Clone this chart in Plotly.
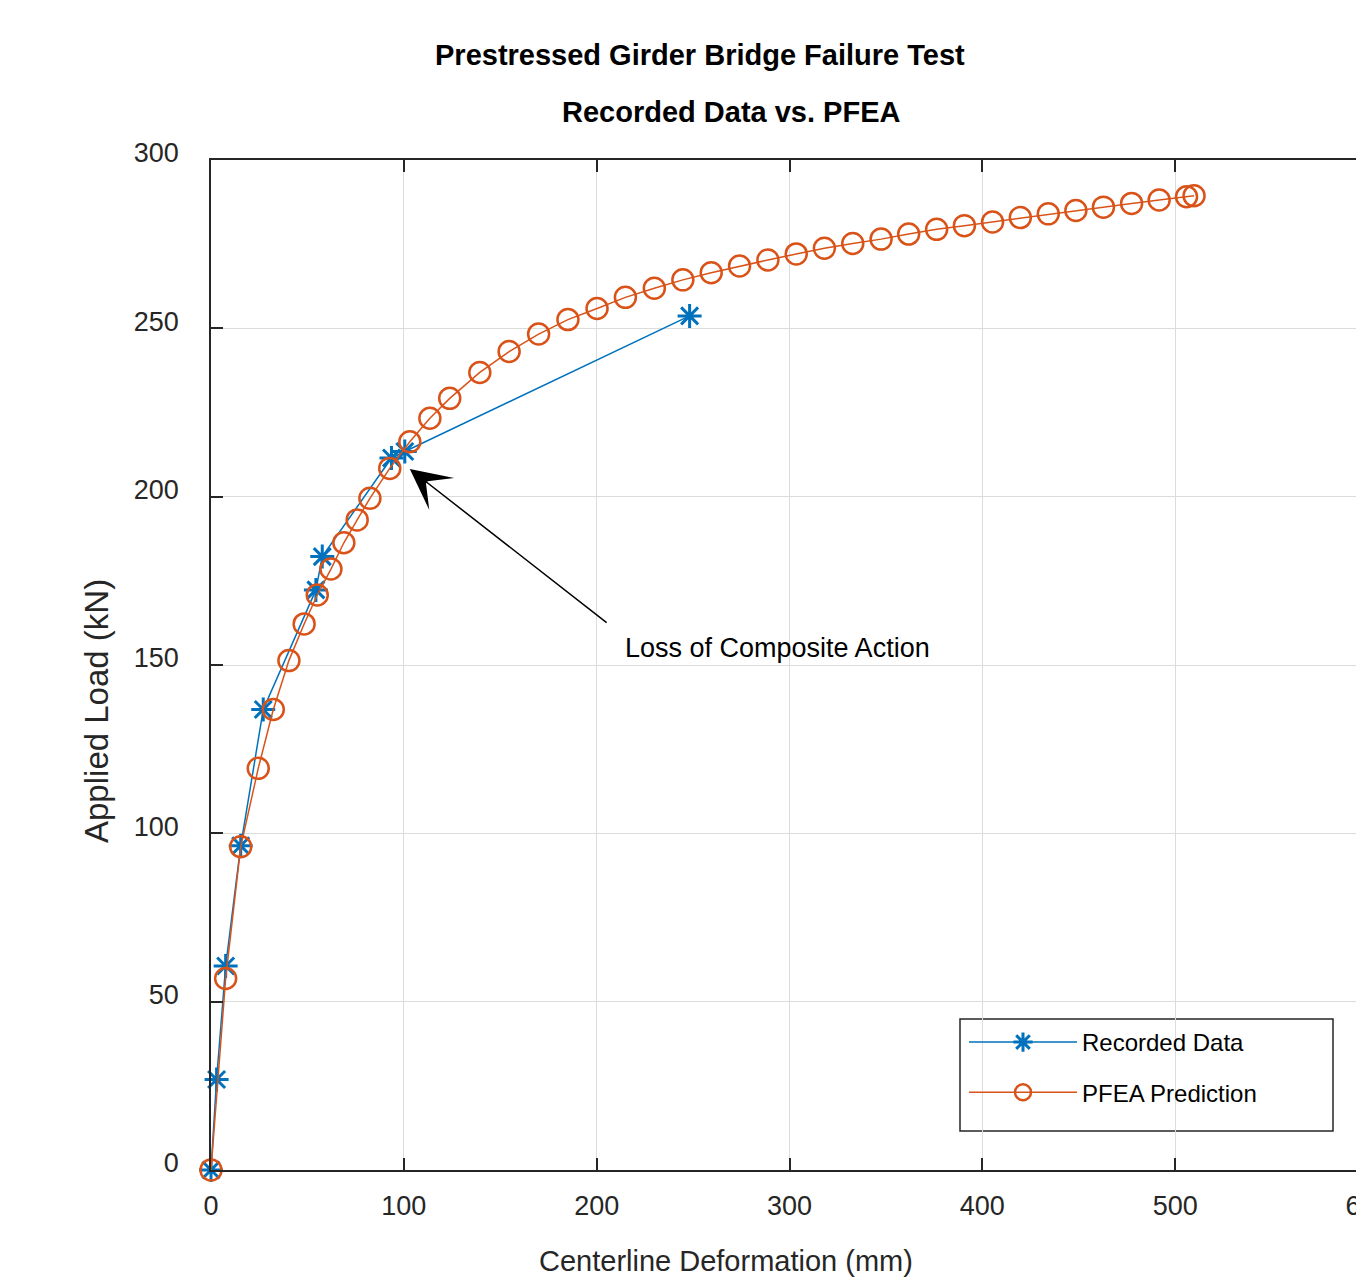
import plotly.graph_objects as go

# ---- data ----
rec_x = [0, 2.9, 7.6, 15.4, 27.1, 54.4, 57.7, 93.6, 100.5, 248.2]
rec_y = [0, 26.9, 60.6, 96.3, 136.8, 172.3, 182.2, 211.5, 213.4, 253.7]

pfea_x = [0, 7.6, 15.4, 24.5, 32.3, 40.4, 48.3, 55.1, 62.2, 68.9, 75.8, 82.4, 92.7,
          103.1, 113.5, 123.8, 139.4, 154.6, 169.9, 185.1, 200.2, 214.9, 229.9, 244.7,
          259.4, 274.1, 288.8, 303.5, 318.1, 332.8, 347.5, 361.8, 376.3, 390.7, 405.3,
          419.7, 434.2, 448.5, 462.8, 477.4, 491.7, 505.9, 509.8]
pfea_y = [0, 56.9, 96.0, 119.3, 136.8, 151.3, 162.2, 170.8, 178.5, 186.3, 193.1, 199.5, 208.4,
          216.3, 223.3, 229.2, 236.9, 243.1, 248.3, 252.6, 255.9, 259.2, 261.9, 264.4,
          266.5, 268.5, 270.3, 272.1, 273.8, 275.2, 276.5, 278.0, 279.4, 280.5, 281.6,
          282.9, 284.0, 285.0, 286.0, 287.1, 288.1, 289.1, 289.4]

x_ticks = [0, 100, 200, 300, 400, 500, 600]
y_ticks = [0, 50, 100, 150, 200, 250, 300]

title_lines = ["Prestressed Girder Bridge Failure Test", "Recorded Data vs. PFEA"]
x_title = "Centerline Deformation (mm)"
y_title = "Applied Load (kN)"
note_text = "Loss of Composite Action"
arrow_head = (103.1, 208.2)
arrow_tail = (206.7, 161.9)
note_pos = (213.5, 155.0)

BLUE = "#0072BD"
ORANGE = "#D95319"
FONT = "Liberation Sans, Arial, Helvetica, sans-serif"
AX = "#262626"

# plot area spans page x 211..1368 (right part cut by the window), y 160..1170
PX0, PW, PY1, PH = 211, 1157, 1170, 1010
FIG_W = 1420


def px(xp):
    return (xp - PX0) / PW


def py(yp):
    return (PY1 - yp) / PH


fig = go.Figure()
fig.add_trace(go.Scatter(
    x=rec_x, y=rec_y, name="Recorded Data", mode="lines+markers", legendgroup="a",
    cliponaxis=False,
    line=dict(color=BLUE, width=1.5),
    marker=dict(symbol="asterisk-open", size=20, line=dict(color=BLUE, width=3), color=BLUE),
))
fig.add_trace(go.Scatter(
    x=pfea_x, y=pfea_y, name="PFEA Prediction", mode="lines+markers", legendgroup="b",
    cliponaxis=False,
    line=dict(color=ORANGE, width=1.5),
    marker=dict(symbol="circle-open", size=21, line=dict(color=ORANGE, width=2.5), color=ORANGE),
))

axis_common = dict(
    showgrid=True, gridcolor="#dcdcdc", gridwidth=1, automargin=False,
    zeroline=False, showline=True, linecolor=AX, linewidth=1.5,
    ticks="inside", ticklen=12, tickwidth=1.5, tickcolor=AX,
    tickfont=dict(family=FONT, size=27, color=AX),
)

fig.update_xaxes(range=[0, 600], tickvals=x_ticks, mirror="ticks",
                 ticklabelstandoff=11, **axis_common)
fig.update_yaxes(range=[0, 300], tickvals=y_ticks, mirror=False,
                 ticklabelstandoff=25, ticklabelshift=-7, **axis_common)

annotations = [
    dict(text="<b>%s</b>" % title_lines[0], xref="paper", yref="paper",
         x=px(700), y=py(55), showarrow=False,
         font=dict(family=FONT, size=29, color="black"), xanchor="center", yanchor="middle"),
    dict(text="<b>%s</b>" % title_lines[1], xref="paper", yref="paper",
         x=px(731), y=py(112), showarrow=False,
         font=dict(family=FONT, size=29, color="black"), xanchor="center", yanchor="middle"),
    dict(text=x_title, xref="paper", yref="paper",
         x=px(726), y=py(1261), showarrow=False,
         font=dict(family=FONT, size=29, color=AX), xanchor="center", yanchor="middle"),
    dict(text=y_title, xref="paper", yref="paper", textangle=-90,
         x=px(96), y=py(711), showarrow=False,
         font=dict(family=FONT, size=33, color=AX), xanchor="center", yanchor="middle"),
    dict(text=" ", x=arrow_head[0], y=arrow_head[1], xref="x", yref="y",
         ax=arrow_tail[0], ay=arrow_tail[1], axref="x", ayref="y",
         showarrow=True, arrowhead=3, arrowsize=4.5, arrowwidth=1.5, arrowcolor="black"),
    dict(text=note_text, x=note_pos[0], y=note_pos[1], xref="x", yref="y",
         showarrow=False, xanchor="left", yanchor="middle",
         font=dict(family=FONT, size=27, color="black")),
]

# legend frame (decoration): page x 960..1333, y 1019..1131
shapes = [
    dict(type="rect", xref="paper", yref="paper", layer="between",
         x0=px(960), x1=px(1333), y0=py(1131), y1=py(1019),
         fillcolor="white", line=dict(color=AX, width=1.5)),
]

fig.update_layout(
    width=FIG_W, height=1280, autosize=False,
    margin=dict(l=PX0, r=FIG_W - PX0 - PW, t=160, b=110, autoexpand=False),
    paper_bgcolor="white", plot_bgcolor="white",
    showlegend=True,
    legend=dict(x=px(964), y=py(1020), xanchor="left", yanchor="top",
                bgcolor="rgba(0,0,0,0)", borderwidth=0,
                font=dict(family=FONT, size=24, color="black"),
                itemwidth=108, tracegroupgap=16),
    annotations=annotations,
    shapes=shapes,
    font=dict(family=FONT),
)

fig.write_html("out.html", config={"displayModeBar": False},
               post_script="document.body.style.margin='0';"
                           "document.documentElement.style.overflow='hidden';"
                           "document.body.style.overflow='hidden';")
